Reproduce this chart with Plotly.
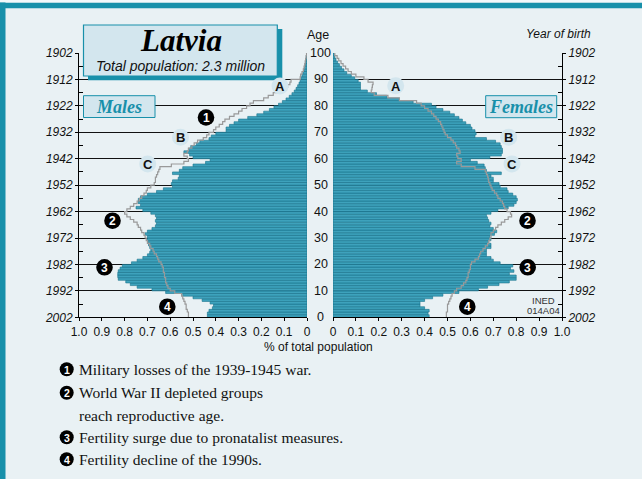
import plotly.graph_objects as go

# ---------------- data ----------------
ages = list(range(100))

males = [
    0.437, 0.437, 0.43, 0.415, 0.41, 0.425, 0.46, 0.50, 0.545, 0.62,
    0.68, 0.745, 0.775, 0.795, 0.828, 0.83, 0.83, 0.828, 0.82, 0.81,
    0.77, 0.745, 0.72, 0.70, 0.69, 0.685, 0.69, 0.695, 0.695, 0.70,
    0.70, 0.71, 0.70, 0.68, 0.665, 0.66, 0.665, 0.66, 0.665, 0.685,
    0.72, 0.75, 0.73, 0.74, 0.74, 0.73, 0.70, 0.66, 0.63, 0.59,
    0.595, 0.59, 0.565, 0.56, 0.59, 0.56, 0.545, 0.50, 0.445, 0.425,
    0.50, 0.515, 0.54, 0.52, 0.51, 0.485, 0.47, 0.43, 0.42, 0.40,
    0.355, 0.355, 0.34, 0.32, 0.30, 0.26, 0.22, 0.19, 0.165, 0.145,
    0.125, 0.108, 0.092, 0.078, 0.066, 0.056, 0.048, 0.041, 0.035, 0.03,
    0.026, 0.022, 0.018, 0.014, 0.011, 0.008, 0.006, 0.004, 0.003, 0.002,
]

females = [
    0.42, 0.415, 0.42, 0.40, 0.38, 0.38, 0.40, 0.435, 0.48, 0.55,
    0.635, 0.675, 0.725, 0.77, 0.80, 0.80, 0.77, 0.79, 0.775, 0.785,
    0.73, 0.70, 0.69, 0.67, 0.67, 0.67, 0.69, 0.69, 0.68, 0.69,
    0.685, 0.705, 0.715, 0.70, 0.685, 0.69, 0.68, 0.675, 0.67, 0.69,
    0.72, 0.765, 0.79, 0.80, 0.805, 0.80, 0.785, 0.765, 0.76, 0.73,
    0.725, 0.70, 0.70, 0.69, 0.735, 0.67, 0.665, 0.66, 0.63, 0.60,
    0.685, 0.735, 0.74, 0.74, 0.735, 0.73, 0.71, 0.67, 0.62, 0.625,
    0.62, 0.607, 0.60, 0.58, 0.565, 0.55, 0.53, 0.51, 0.48, 0.45,
    0.43, 0.35, 0.29, 0.235, 0.19, 0.15, 0.12, 0.12, 0.12, 0.11,
    0.095, 0.08, 0.06, 0.048, 0.037, 0.028, 0.02, 0.013, 0.008, 0.005,
]

males_ref = [
    0.52, 0.52, 0.525, 0.53, 0.53, 0.535, 0.54, 0.545, 0.55, 0.58,
    0.60, 0.61, 0.615, 0.62, 0.62, 0.625, 0.625, 0.63, 0.63, 0.635,
    0.64, 0.65, 0.655, 0.66, 0.67, 0.675, 0.685, 0.69, 0.70, 0.705,
    0.71, 0.715, 0.725, 0.73, 0.74, 0.745, 0.76, 0.775, 0.79, 0.80,
    0.79, 0.775, 0.76, 0.745, 0.735, 0.725, 0.715, 0.705, 0.70, 0.685,
    0.67, 0.665, 0.665, 0.66, 0.655, 0.65, 0.645, 0.595, 0.54, 0.52,
    0.525, 0.54, 0.525, 0.52, 0.505, 0.495, 0.48, 0.455, 0.44, 0.43,
    0.41, 0.40, 0.385, 0.37, 0.36, 0.34, 0.32, 0.30, 0.285, 0.265,
    0.25, 0.235, 0.19, 0.17, 0.148, 0.118, 0.09, 0.085, 0.075, 0.07,
    0.03, 0.028, 0.022, 0.016, 0.013, 0.01, 0.008, 0.006, 0.004, 0.002,
]

females_ref = [
    0.495, 0.495, 0.50, 0.50, 0.50, 0.505, 0.51, 0.515, 0.52, 0.53,
    0.54, 0.56, 0.57, 0.58, 0.585, 0.59, 0.59, 0.595, 0.60, 0.60,
    0.605, 0.62, 0.635, 0.64, 0.645, 0.655, 0.665, 0.675, 0.68, 0.685,
    0.69, 0.69, 0.70, 0.71, 0.72, 0.735, 0.75, 0.765, 0.78, 0.775,
    0.76, 0.75, 0.745, 0.74, 0.73, 0.72, 0.715, 0.705, 0.695, 0.69,
    0.685, 0.68, 0.678, 0.675, 0.67, 0.665, 0.62, 0.56, 0.54, 0.56,
    0.545, 0.54, 0.555, 0.55, 0.54, 0.535, 0.525, 0.515, 0.50, 0.49,
    0.485, 0.48, 0.475, 0.47, 0.46, 0.45, 0.44, 0.43, 0.415, 0.40,
    0.385, 0.365, 0.29, 0.24, 0.18, 0.167, 0.17, 0.172, 0.175, 0.153,
    0.135, 0.10, 0.08, 0.066, 0.055, 0.044, 0.035, 0.025, 0.018, 0.008,
]

age_ticks = [0, 10, 20, 30, 40, 50, 60, 70, 80, 90, 100]
age_minor = [5, 15, 25, 35, 45, 55, 65, 75, 85, 95]
age_ticks_all = list(range(0, 101, 5))
year_labels = ["2002", "1992", "1982", "1972", "1962", "1952",
               "1942", "1932", "1922", "1912", "1902"]
age_labels = ["0", "10", "20", "30", "40", "50", "60", "70", "80", "90", "100"]
x_ticks = [0, 0.1, 0.2, 0.3, 0.4, 0.5, 0.6, 0.7, 0.8, 0.9, 1.0]
x_ticklabels = ["0", "0.1", "0.2", "0.3", "0.4", "0.5", "0.6", "0.7", "0.8", "0.9", "1.0"]

title_text = "Latvia"
subtitle_text = "Total population: 2.3 million"
notes = [
    ("1", "Military losses of the 1939-1945 war."),
    ("2", "World War II depleted groups"),
    (None, "reach reproductive age."),
    ("3", "Fertility surge due to pronatalist measures."),
    ("4", "Fertility decline of the 1990s."),
]

# ---------------- style ----------------
W, H = 642, 479
BG = "#e9f1f4"
TEAL = "#1890aa"
FILL = "#3ea2bc"
EDGE = "#18728c"
BOXFILL = "#d3e6ee"
REF = "#999999"
SANS = "Liberation Sans, Arial, sans-serif"
SERIF = "Liberation Serif, Times New Roman, serif"


def px(x):
    return x / W


def py(y):
    return 1 - y / H


Y_DOM = [py(317.3), py(53)]
XL_DOM = [px(79), px(307)]
XR_DOM = [px(333), px(562)]

fig = go.Figure()

bar_y = [a + 0.5 for a in ages]
fig.add_trace(go.Bar(x=males, y=bar_y, orientation="h", width=1,
                     marker=dict(color=FILL, line=dict(color=EDGE, width=0.6)),
                     xaxis="x", yaxis="y", showlegend=False, hoverinfo="skip"))
fig.add_trace(go.Bar(x=females, y=bar_y, orientation="h", width=1,
                     marker=dict(color=FILL, line=dict(color=EDGE, width=0.6)),
                     xaxis="x2", yaxis="y2", showlegend=False, hoverinfo="skip"))

fig.add_trace(go.Scatter(x=males_ref + [males_ref[-1]], y=ages + [100], mode="lines",
                         line=dict(shape="vh", color=REF, width=1.2),
                         xaxis="x", yaxis="y", showlegend=False, hoverinfo="skip"))
fig.add_trace(go.Scatter(x=females_ref + [females_ref[-1]], y=ages + [100], mode="lines",
                         line=dict(shape="vh", color=REF, width=1.2),
                         xaxis="x2", yaxis="y2", showlegend=False, hoverinfo="skip"))

tickfont = dict(family=SANS, size=12, color="#111")
yearfont = dict(family=SANS, size=12, color="#111")
italic_years = ["<i>%s</i>" % y for y in year_labels]

common_x = dict(tickvals=x_ticks, ticktext=x_ticklabels, ticks="outside", ticklen=3,
                tickcolor="black", showline=True, linecolor="black", linewidth=1,
                showgrid=False, zeroline=False, tickfont=tickfont, fixedrange=True,
                automargin=False)
common_y = dict(domain=Y_DOM, range=[0, 100], tickvals=age_ticks, ticktext=italic_years,
                ticks="outside", ticklen=3, tickcolor="black",
                showline=True, linecolor="black", linewidth=1,
                showgrid=True, gridcolor="#111111", gridwidth=1, zeroline=False,
                tickfont=yearfont, fixedrange=True, automargin=False,
                minor=dict(tickvals=age_minor, ticks="inside", ticklen=4,
                           tickcolor="black", showgrid=False))
center_y = dict(range=[0, 100], tickvals=age_ticks_all, ticks="outside", ticklen=4,
                tickcolor="black", showticklabels=False, showline=True,
                linecolor="black", linewidth=1.2, showgrid=False, zeroline=False,
                fixedrange=True, automargin=False)

fig.update_layout(
    width=W, height=H, autosize=False,
    margin=dict(l=0, r=0, t=0, b=0, pad=0, autoexpand=False),
    paper_bgcolor=BG, plot_bgcolor=BG,
    barmode="overlay", showlegend=False,
    xaxis=dict(domain=XL_DOM, range=[1, 0], anchor="y", **common_x),
    xaxis2=dict(domain=XR_DOM, range=[0, 1], anchor="y2", **common_x),
    yaxis=dict(anchor="x", side="left", **common_y),
    yaxis2=dict(anchor="x2", side="right", **common_y),
    yaxis3=dict(overlaying="y", anchor="x", side="right", **center_y),
    yaxis4=dict(overlaying="y2", anchor="x2", side="left", **center_y),
)

shapes = []
# outer frame
shapes.append(dict(type="rect", xref="paper", yref="paper", x0=0, x1=1,
                   y0=py(8.3), y1=py(2.5), fillcolor=TEAL, line=dict(width=0), layer="above"))
shapes.append(dict(type="rect", xref="paper", yref="paper", x0=0, x1=1,
                   y0=py(2.5), y1=1, fillcolor="#f3f8fa", line=dict(width=0), layer="above"))
shapes.append(dict(type="rect", xref="paper", yref="paper", x0=0, x1=px(5.5),
                   y0=0, y1=py(2.5), fillcolor=TEAL, line=dict(width=0), layer="above"))
# title box with shadow
shapes.append(dict(type="rect", xref="paper", yref="paper", x0=px(88), x1=px(282.3),
                   y0=py(80.3), y1=py(29), fillcolor=TEAL, line=dict(width=0)))
shapes.append(dict(type="rect", xref="paper", yref="paper", x0=px(83.5), x1=px(277.3),
                   y0=py(76), y1=py(25), fillcolor=BOXFILL, line=dict(color=TEAL, width=1.2)))
# sex boxes
shapes.append(dict(type="rect", xref="paper", yref="paper", x0=px(83.5), x1=px(155),
                   y0=py(117.5), y1=py(95.7), fillcolor=BOXFILL, line=dict(color=TEAL, width=1)))
shapes.append(dict(type="rect", xref="paper", yref="paper", x0=px(485.7), x1=px(556.7),
                   y0=py(117.7), y1=py(95.7), fillcolor=BOXFILL, line=dict(color=TEAL, width=1)))


def circle(cx, cy, r, fill):
    return dict(type="circle", xref="paper", yref="paper",
                x0=px(cx - r), x1=px(cx + r), y0=py(cy + r), y1=py(cy - r),
                fillcolor=fill, line=dict(width=0))


annotations = []


def text(x, y, s, size, family, color="#111", xanchor="center", yanchor="middle", **kw):
    annotations.append(dict(xref="paper", yref="paper", x=px(x), y=py(y), text=s,
                            showarrow=False, xanchor=xanchor, yanchor=yanchor,
                            font=dict(size=size, family=family, color=color), **kw))


# letters A B C
letter_pos = [("A", 280, 86), ("B", 180.5, 137.3), ("C", 147.7, 164),
              ("A", 395.7, 85.7), ("B", 508.7, 137.3), ("C", 512, 164)]
for s, cx, cy in letter_pos:
    shapes.append(circle(cx, cy, 8.5, BOXFILL))
    text(cx, cy + 0.5, "<b>%s</b>" % s, 13, SANS, "#111")

# numbered black markers on chart
num_pos = [("1", 206, 117.5), ("2", 112.5, 220.7), ("2", 527.5, 220.7),
           ("3", 104.5, 267.3), ("3", 527.7, 267.3), ("4", 167.3, 306.7), ("4", 467.3, 306.7)]
for s, cx, cy in num_pos:
    shapes.append(circle(cx, cy, 8.3, "#000000"))
    text(cx, cy + 0.5, "<b>%s</b>" % s, 12, SANS, "white")

# center age labels (on the age scale)
for a, lab in zip(age_ticks, age_labels):
    annotations.append(dict(xref="paper", yref="y", x=px(320.5), y=a, text=lab,
                            showarrow=False, xanchor="center", yanchor="middle",
                            font=dict(size=12.5, family=SANS, color="#111")))

text(318, 35.5, "Age", 12.5, SANS)
text(592.5, 34, "<i>Year of birth</i>", 12, SANS, xanchor="right")
text(180.5, 40.5, "<b><i>%s</i></b>" % title_text, 31, SERIF, "#000")
text(181, 66, "<i>%s</i>" % subtitle_text, 14, SANS, "#111")
text(119.3, 106.7, "<b><i>Males</i></b>", 18, SERIF, TEAL)
text(521.2, 106.7, "<b><i>Females</i></b>", 18, SERIF, TEAL)
text(318.5, 347, "% of total population", 12, SANS)
text(543, 300, "INED", 9.5, SANS, "#333")
text(543, 310.5, "014A04", 9.5, SANS, "#333")

# notes
note_y = [369.3, 392.7, 415, 437.3, 459.3]
for (num, s), ny in zip(notes, note_y):
    if num is not None:
        shapes.append(circle(66.7, ny, 7, "#000000"))
        text(66.7, ny + 0.4, "<b>%s</b>" % num, 10.5, SANS, "white")
    text(77.3, ny, s, 15.5, SERIF, "#111", xanchor="left")

fig.update_layout(shapes=shapes, annotations=annotations)

fig.write_html("out.html",
               config={"displayModeBar": False, "staticPlot": True},
               post_script="document.body.style.margin='0px';"
                           "document.body.style.padding='0px';"
                           "document.body.style.overflow='hidden';")
